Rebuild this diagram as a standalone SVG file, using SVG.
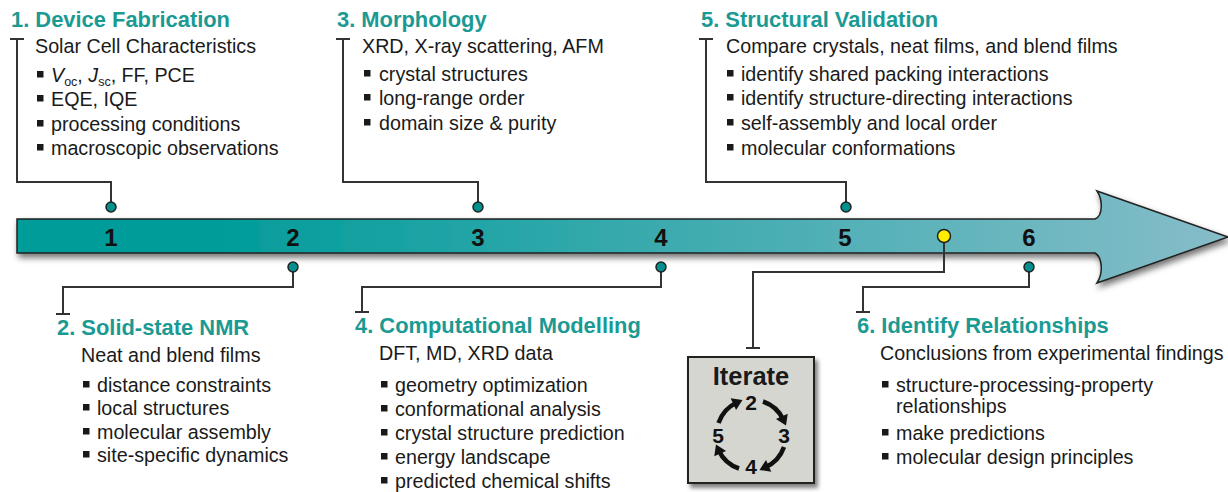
<svg xmlns="http://www.w3.org/2000/svg" width="1228" height="492" viewBox="0 0 1228 492">
<style>
text{font-family:"Liberation Sans",Arial,sans-serif;fill:#1a1a1a}
.t{font-size:21.9px;font-weight:bold;fill:#1b9a93}
.s{font-size:19.7px}
.i{font-size:19.7px}
.n{font-size:24px;font-weight:bold;fill:#111;text-anchor:middle}
.k{font-size:21px;font-weight:bold;fill:#111;text-anchor:middle}
.c{fill:none;stroke:#333;stroke-width:2}
.a{fill:none;stroke:#111;stroke-width:4.5;marker-end:url(#ah)}
</style>
<defs>
<linearGradient id="g" gradientUnits="userSpaceOnUse" x1="17" y1="0" x2="1228" y2="0">
<stop offset="0" stop-color="#009c9a"/>
<stop offset="0.16" stop-color="#009c9a"/>
<stop offset="1" stop-color="#86bdc9"/>
</linearGradient>
<filter id="sh" x="-5%" y="-30%" width="110%" height="170%">
<feDropShadow dx="2" dy="4" stdDeviation="3" flood-color="#000" flood-opacity="0.55"/>
</filter>
<filter id="bs" x="-10%" y="-10%" width="130%" height="130%">
<feDropShadow dx="3" dy="4" stdDeviation="2" flood-color="#000" flood-opacity="0.5"/>
</filter>
<rect id="b" width="6.5" height="6.5" fill="#1a1a1a"/>
<marker id="dot" markerUnits="userSpaceOnUse" markerWidth="14" markerHeight="14" viewBox="-7 -7 14 14" refX="0" refY="0" overflow="visible">
<circle r="5" fill="#00918e" stroke="#222" stroke-width="1.5"/>
</marker>
<marker id="ydot" markerUnits="userSpaceOnUse" markerWidth="16" markerHeight="16" viewBox="-8 -8 16 16" refX="0" refY="0" overflow="visible">
<circle r="6.5" fill="#ffec00" stroke="#222" stroke-width="1.5"/>
</marker>
<marker id="tee" markerUnits="userSpaceOnUse" markerWidth="20" markerHeight="20" viewBox="-10 -10 20 20" refX="0" refY="0" orient="auto" overflow="visible">
<path d="M0,-7V7" stroke="#333" stroke-width="2"/>
</marker>
<marker id="ah" markerUnits="userSpaceOnUse" markerWidth="16" markerHeight="16" viewBox="-8 -8 16 16" refX="2" refY="0" orient="auto" overflow="visible">
<path d="M-2,-6.5L8,0L-2,6.5z" fill="#111"/>
</marker>
</defs>

<g id="timeline">
<path d="M17,219 H1095 C1103,216 1103,200 1097,191 L1228,237 L1097,283 C1103,274 1103,258 1095,253 H17 Z" fill="url(#g)" stroke="#222" stroke-width="1.5" filter="url(#sh)"/>
<text class="n" x="111" y="246">1</text>
<text class="n" x="293" y="246">2</text>
<text class="n" x="478" y="246">3</text>
<text class="n" x="661" y="246">4</text>
<text class="n" x="845" y="246">5</text>
<text class="n" x="1029" y="246">6</text>
</g>

<g id="connectors">
<path class="c" d="M111,207 V182 H17 V39" marker-start="url(#dot)" marker-end="url(#tee)"/>
<path class="c" d="M478,207 V182 H343 V39" marker-start="url(#dot)" marker-end="url(#tee)"/>
<path class="c" d="M846,207 V182 H706 V39" marker-start="url(#dot)" marker-end="url(#tee)"/>
<path class="c" d="M293,267 V287 H63 V314" marker-start="url(#dot)" marker-end="url(#tee)"/>
<path class="c" d="M661,267 V287 H362 V312" marker-start="url(#dot)" marker-end="url(#tee)"/>
<path class="c" d="M944,236 V272 H753 V348" marker-start="url(#ydot)" marker-end="url(#tee)"/>
<path class="c" d="M1029,267 V287 H863 V312" marker-start="url(#dot)" marker-end="url(#tee)"/>
</g>

<g id="node1">
<text class="t" x="11" y="27">1. Device Fabrication</text>
<text class="s" x="35" y="53">Solar Cell Characteristics</text>
<use href="#b" x="37" y="71"/><use href="#b" x="37" y="95"/><use href="#b" x="37" y="120"/><use href="#b" x="37" y="144"/>
<text class="i" x="51" y="82"><tspan font-style="italic">V</tspan><tspan font-size="12.5" dy="4">oc</tspan><tspan dy="-4">, </tspan><tspan font-style="italic">J</tspan><tspan font-size="12.5" dy="4">sc</tspan><tspan dy="-4">, FF, PCE</tspan></text>
<text class="i" x="51" y="106">EQE, IQE</text>
<text class="i" x="51" y="131">processing conditions</text>
<text class="i" x="51" y="155">macroscopic observations</text>
</g>

<g id="node3">
<text class="t" x="337" y="27">3. Morphology</text>
<text class="s" x="362" y="53">XRD, X-ray scattering, AFM</text>
<use href="#b" x="364" y="70"/><use href="#b" x="364" y="94"/><use href="#b" x="364" y="119"/>
<text class="i" x="379" y="81">crystal structures</text>
<text class="i" x="379" y="105">long-range order</text>
<text class="i" x="379" y="130">domain size &amp; purity</text>
</g>

<g id="node5">
<text class="t" x="701" y="27">5. Structural Validation</text>
<text class="s" x="726" y="53">Compare crystals, neat films, and blend films</text>
<use href="#b" x="727" y="70"/><use href="#b" x="727" y="94"/><use href="#b" x="727" y="119"/><use href="#b" x="727" y="144"/>
<text class="i" x="741" y="81">identify shared packing interactions</text>
<text class="i" x="741" y="105">identify structure-directing interactions</text>
<text class="i" x="741" y="130">self-assembly and local order</text>
<text class="i" x="741" y="155">molecular conformations</text>
</g>

<g id="node2">
<text class="t" x="57" y="335">2. Solid-state NMR</text>
<text class="s" x="81" y="362">Neat and blend films</text>
<use href="#b" x="83" y="381"/><use href="#b" x="83" y="404"/><use href="#b" x="83" y="428"/><use href="#b" x="83" y="451"/>
<text class="i" x="97" y="392">distance constraints</text>
<text class="i" x="97" y="415">local structures</text>
<text class="i" x="97" y="439">molecular assembly</text>
<text class="i" x="97" y="462">site-specific dynamics</text>
</g>

<g id="node4">
<text class="t" x="355" y="333">4. Computational Modelling</text>
<text class="s" x="379" y="360">DFT, MD, XRD data</text>
<use href="#b" x="381" y="381"/><use href="#b" x="381" y="405"/><use href="#b" x="381" y="429"/><use href="#b" x="381" y="453"/><use href="#b" x="381" y="477"/>
<text class="i" x="395" y="392">geometry optimization</text>
<text class="i" x="395" y="416">conformational analysis</text>
<text class="i" x="395" y="440">crystal structure prediction</text>
<text class="i" x="395" y="464">energy landscape</text>
<text class="i" x="395" y="488">predicted chemical shifts</text>
</g>

<g id="node6">
<text class="t" x="857" y="333">6. Identify Relationships</text>
<text class="s" x="880" y="360">Conclusions from experimental findings</text>
<use href="#b" x="882" y="381"/><use href="#b" x="882" y="429"/><use href="#b" x="882" y="453"/>
<text class="i" x="896" y="392">structure-processing-property</text>
<text class="i" x="896" y="413">relationships</text>
<text class="i" x="896" y="440">make predictions</text>
<text class="i" x="896" y="464">molecular design principles</text>
</g>

<g id="iterate">
<rect x="688" y="357" width="126" height="126" fill="#d6d6d0" stroke="#222" stroke-width="2" filter="url(#bs)"/>
<text x="751" y="385" font-size="25.5" font-weight="bold" text-anchor="middle" fill="#111">Iterate</text>
<text class="k" x="751" y="410">2</text>
<text class="k" x="784" y="443">3</text>
<text class="k" x="751" y="474">4</text>
<text class="k" x="718" y="443">5</text>
<path class="a" d="M718.5,423 A35,35 0 0 1 737,402.5"/>
<path class="a" d="M763,401.5 A35,35 0 0 1 783.5,420"/>
<path class="a" d="M784,447 A35,35 0 0 1 765,467.5"/>
<path class="a" d="M739,468.5 A35,35 0 0 1 718.5,450"/>
</g>
</svg>
